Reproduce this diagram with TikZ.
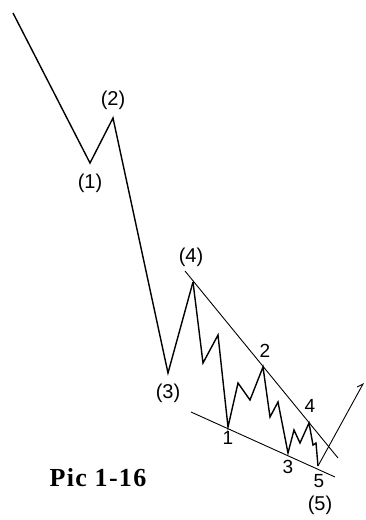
\documentclass[tikz,border=0pt]{standalone}
\usepackage{fontspec}
\setmainfont{Liberation Sans}
\newfontfamily\picfont[LetterSpace=5]{Liberation Serif}
\usetikzlibrary{positioning}

\begin{document}
\begin{tikzpicture}[
    x=1pt, y=-1pt,
    wave/.style={line width=1.4pt, line join=miter},
    trend/.style={line width=0.9pt},
    lbl/.style={font=\fontsize{20}{20}\selectfont, inner sep=0pt},
    sublbl/.style={font=\fontsize{19}{19}\selectfont, inner sep=0pt},
]
\useasboundingbox (0,0) rectangle (366,520);

%% ── Main waves ────────────────────────────────────────────────────────────────
\coordinate (w0) at (13,13);
\coordinate (w1) at (90,163);
\coordinate (w2) at (113,118);
\coordinate (w3) at (168,373);
\coordinate (w4) at (193,282);

\draw[wave] (w0) -- (w1) -- (w2) -- (w3) -- (w4);

\node[lbl] (l1) at (90,183)  {(1)};
\node[lbl] (l2) at (113,100) {(2)};
\node[lbl] (l3) at (168,393) {(3)};
\node[lbl] (l4) at (191,257) {(4)};

%% ── Wave (5): sub-waves ───────────────────────────────────────────────────────
\coordinate (s1) at (228,427);
\coordinate (s2) at (263,367);
\coordinate (s3) at (288,453);
\coordinate (s4) at (309,423);
\coordinate (s5) at (318,466);
\coordinate (up) at (363,384);
\coordinate (tip) at (357,387);

\draw[wave] (w4) -- (203,363) -- (218,335) -- (s1)
                 -- (238,383) -- (250,400) -- (s2)
                 -- (270,417) -- (278,402) -- (s3)
                 -- (294,430) -- (300,443) -- (s4)
                 -- (313,445) -- (316,443) -- (s5);
\draw[trend] (s5) -- (up) -- (tip);

\node[sublbl] (n1) at (228,438) {1};
\node[sublbl] (n2) at (265,351) {2};
\node[sublbl] (n3) at (288,467) {3};
\node[sublbl] (n4) at (310,406) {4};
\node[sublbl] (n5) at (319,481) {5};
\node[lbl]    (l5) at (320,505) {(5)};

%% ── Trend lines ───────────────────────────────────────────────────────────────
\coordinate (ut1) at (185,271);
\coordinate (ut2) at (338,458);
\coordinate (lt1) at (191,412);
\coordinate (lt2) at (335,477);

\draw[trend] (ut1) -- (ut2);
\draw[trend] (lt1) -- (lt2);

% caption
\node[font=\picfont\bfseries\fontsize{26}{26}\selectfont, inner sep=0pt]
      (cap) at (98,478) {Pic 1-16};

\end{tikzpicture}
\end{document}
